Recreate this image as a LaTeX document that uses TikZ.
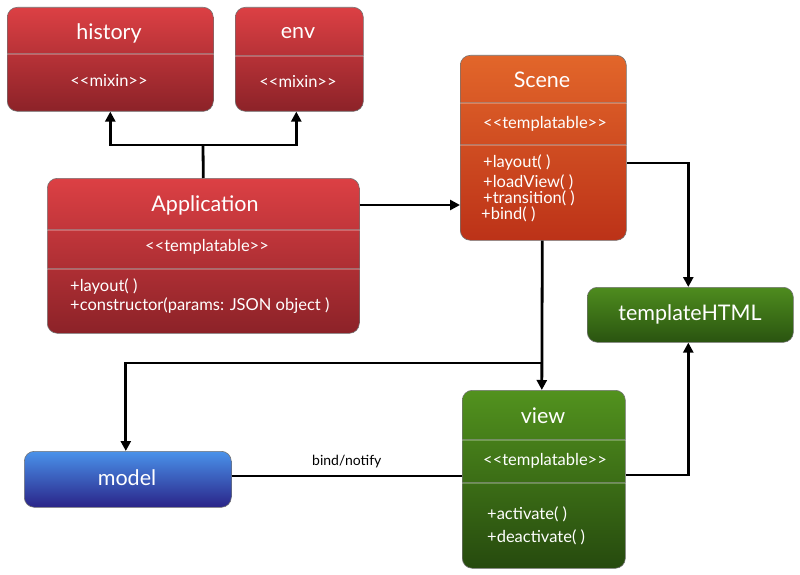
\documentclass[tikz,border=0pt]{standalone}
\usepackage{fontspec}
\setmainfont{Lato}
\usetikzlibrary{arrows.meta}
\definecolor{redT}{HTML}{DC4044}
\definecolor{redB}{HTML}{8C2228}
\definecolor{orT}{HTML}{E2662A}
\definecolor{orB}{HTML}{BC3218}
\definecolor{grT}{HTML}{52921E}
\definecolor{grB}{HTML}{264A0E}
\definecolor{tgT}{HTML}{4E8C1E}
\definecolor{tgB}{HTML}{2A5410}
\definecolor{blT}{HTML}{4A92EA}
\definecolor{blB}{HTML}{2A2488}
\begin{document}
\begin{tikzpicture}[x=1pt,y=-1pt,
  umlbox/.style={draw=black!55, line width=0.6pt, rounded corners=10pt, anchor=north west, inner sep=0pt},
  redbox/.style={umlbox, top color=redT, bottom color=redB},
  orbox/.style={umlbox, top color=orT, bottom color=orB},
  grbox/.style={umlbox, top color=grT, bottom color=grB},
  tgbox/.style={umlbox, top color=tgT, bottom color=tgB},
  blbox/.style={umlbox, top color=blT, bottom color=blB},
  ttl/.style={text=white, font=\fontsize{21.5}{24}\selectfont, inner sep=0pt},
  stereo/.style={text=white, font=\fontsize{16.5}{19}\selectfont, inner sep=0pt},
  meth/.style={text=white, font=\fontsize{16.5}{19}\selectfont, inner sep=0pt, anchor=west, align=left},
  div/.style={draw=black!40, line width=0.5pt, opacity=0.6},
  divl/.style={draw=white, line width=0.5pt, opacity=0.25},
  conn/.style={draw=black, line width=2.8pt},
  arr/.style={conn, -{Triangle[width=10pt,length=10pt]}},
  lbl/.style={font=\fontsize{14}{16}\selectfont, inner sep=0pt}
]
\useasboundingbox (0,0) rectangle (800,575);

% boxes
\node[redbox, minimum width=206pt, minimum height=104pt] (history) at (7,7) {};
\node[redbox, minimum width=128pt, minimum height=104pt] (env) at (235,7) {};
\node[redbox, minimum width=312pt, minimum height=155pt] (app) at (47,178) {};
\node[orbox, minimum width=166pt, minimum height=185pt] (scene) at (460,55) {};
\node[tgbox, minimum width=206pt, minimum height=55pt] (tpl) at (587,287) {};
\node[grbox, minimum width=163pt, minimum height=178pt] (view) at (462,390) {};
\node[blbox, minimum width=207pt, minimum height=56pt] (model) at (24,451) {};

% dividers
\foreach \b/\y in {history/53, env/55, app/229, app/268, scene/102, scene/144, view/439, view/482}{
  \draw[div] (\b.west |- 0,\y) -- (\b.east |- 0,\y);
  \draw[divl] (\b.west |- 0,\y+1) -- (\b.east |- 0,\y+1);
}

% texts
\node[ttl] (historyT) at (109,33) {history};
\node[stereo] (historyS) at (109,80) {<{}<mixin>{}>};
\node[ttl] (envT) at (298,33) {env};
\node[stereo] (envS) at (298,81) {<{}<mixin>{}>};
\node[ttl] (appT) at (205,205) {Application};
\node[stereo] (appS) at (207,247) {<{}<templatable>{}>};
\node[meth] (appM1) at (70,287) {+layout( )};
\node[meth] (appM2) at (70,306) {+constructor(params: JSON object )};
\node[ttl] (sceneT) at (542,80) {Scene};
\node[stereo] (sceneS) at (545,124) {<{}<templatable>{}>};
\node[meth] (sceneM1) at (483,163) {+layout( )};
\node[meth] (sceneM2) at (483,182) {+loadView( )};
\node[meth] (sceneM3) at (483,198) {+transition( )};
\node[meth] (sceneM4) at (481,214) {+bind( )};
\node[ttl] (tplT) at (690,314) {templateHTML};
\node[ttl] (viewT) at (543,416) {view};
\node[stereo] (viewS) at (545,461) {<{}<templatable>{}>};
\node[meth] (viewM1) at (487,514) {+activate( )};
\node[meth] (viewM2) at (487,537) {+deactivate( )};
\node[ttl] (modelT) at (127,478) {model};

% connectors
\coordinate (j1) at (203,145);
\draw[conn] (app.north) -- (j1);
\draw[arr] (j1) -| (history.south);
\draw[arr] (j1) -| ([xshift=-3pt]env.south);
\draw[arr] (app.east |- 0,205) -- (scene.west |- 0,205);
\draw[arr] (scene.east |- 0,163) -| ([xshift=-2pt]tpl.north);
\draw[arr] ([xshift=-1pt]scene.south) -- ([xshift=-2pt]view.north);
\coordinate (j2) at (542,363);
\draw[arr] (j2) -| ([xshift=-2pt]model.north);
\draw[conn] (model.east |- 0,476) -- node[lbl, above=7pt] (bn) {bind/notify} (view.west |- 0,476);
\draw[arr] (view.east |- 0,475) -| ([xshift=-2pt]tpl.south);
\end{tikzpicture}
\end{document}
